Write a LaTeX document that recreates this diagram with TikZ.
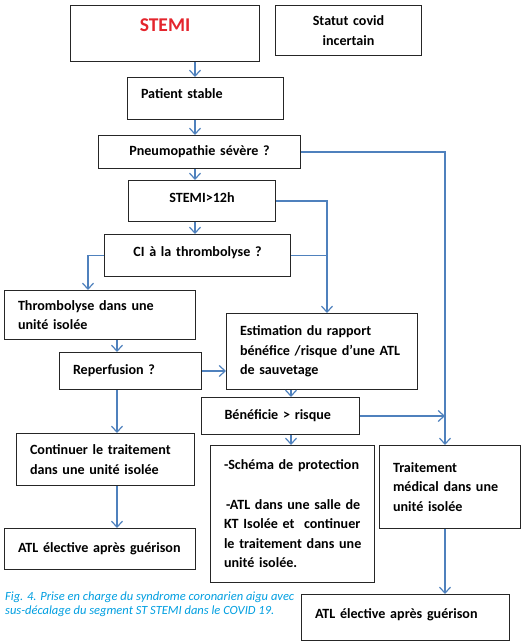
\documentclass[tikz,border=0pt]{standalone}
\usepackage{fontspec}
\setmainfont{Carlito}
\usetikzlibrary{arrows.meta}
\definecolor{flowblue}{RGB}{79,129,189}
\definecolor{stemired}{RGB}{228,37,45}
\definecolor{capcyan}{RGB}{0,158,224}
\newcommand{\keepline}[1]{\mbox{#1}}
\tikzset{
     arrow/.style={-{Straight Barb[length=6bp,width=11bp]},draw=flowblue,line width=1.2bp},
     link/.style={draw=flowblue,line width=1.2bp},
     box/.style={draw=black!85,line width=1bp,anchor=north west,inner xsep=13.5bp,inner ysep=0bp,font=\bfseries\fontsize{14.1bp}{19.6bp}\selectfont}
     }

\begin{document}
\begin{tikzpicture}[x=1bp,y=-1bp]
            \useasboundingbox (0,0) rectangle (522,644);
            % Place nodes
            \node[box,align=center,text width=162bp,minimum height=56bp,text depth=16bp] (stemi) at (70,5) {\textcolor{stemired}{\fontsize{19.5bp}{22bp}\selectfont STEMI}};
            \node[box,align=center,text width=119bp,minimum height=50bp] (covid) at (275,5) {Statut covid\\incertain};
            \node[box,align=left,text width=129bp,minimum height=42bp,text depth=10bp] (stable) at (127,77) {Patient stable};
            \node[box,align=center,text width=175bp,minimum height=33bp] (pneumo) at (98,135) {Pneumopathie sévère ?};
            \node[box,align=center,text width=120bp,minimum height=41bp,text depth=7bp] (late) at (128,180) {STEMI>12h};
            \node[box,align=center,text width=159bp,minimum height=42bp,text depth=8bp] (ci) at (104,234) {CI à la thrombolyse ?};
            \node[box,align=left,text width=164bp,minimum height=49bp] (thrombo) at (4,290) {\keepline{Thrombolyse dans une}\\unité isolée};
            \node[box,align=left,text width=115bp,minimum height=37bp] (reperf) at (59,352) {Reperfusion ?};
            \node[box,align=left,text width=164bp,minimum height=76bp] (estim) at (226,313) {\keepline{Estimation du rapport}\\\keepline{bénéfice /risque d’une ATL}\\de sauvetage};
            \node[box,align=left,inner xsep=23bp,text width=112bp,minimum height=37bp] (benef) at (201,397) {\keepline{Bénéficie >\ risque}};
            \node[box,align=left,text width=151bp,minimum height=52bp] (cont) at (16,433) {\keepline{Continuer le traitement}\\\keepline{dans une unité isolée}};
            \node[box,align=left,text width=137bp,minimum height=137bp] (schema) at (210,445) {\keepline{-Schéma de protection}\\[19.6bp]\keepline{\hspace*{2bp}-ATL dans une salle de}\\\keepline{KT Isolée et\ \ continuer}\\\keepline{le traitement dans une}\\unité isolée.};
            \node[box,align=left,text width=114bp,minimum height=83bp] (trait) at (379,445) {Traitement\\\keepline{médical dans une}\\unité isolée};
            \node[box,align=left,text width=164bp,minimum height=41bp] (atlleft) at (4,528) {\keepline{ATL élective après guérison}};
            \node[box,align=left,text width=181bp,minimum height=46bp,text depth=8bp] (atlright) at (301,594) {\keepline{ATL élective après guérison}};
            \node[anchor=north west,align=left,inner sep=0bp,text=capcyan,font=\itshape\fontsize{12.5bp}{13.8bp}\selectfont] (caption) at (5,592) {Fig. 4. Prise en charge du syndrome coronarien aigu avec\\sus-décalage du segment ST STEMI dans le COVID 19.};
            % Trunk positions
            \coordinate (axis) at (195,0);
            \coordinate (ltrunk) at (88,0);
            \coordinate (lax) at (117,0);
            \coordinate (mtrunk) at (327,0);
            \coordinate (sax) at (291,0);
            \coordinate (rtrunk) at (445,0);
            % Draw edges
            \draw[arrow] (stemi.south -| axis) -- (stable.north -| axis);
            \draw[arrow] (stable.south -| axis) -- (pneumo.north -| axis);
            \draw[arrow] (pneumo.south -| axis) -- (late.north -| axis);
            \draw[arrow] (late.south -| axis) -- (ci.north -| axis);
            \draw[arrow] (pneumo.east) -- (pneumo.east -| rtrunk) -- (trait.north -| rtrunk);
            \draw[arrow] (late.east) -- (late.east -| mtrunk) -- (estim.north -| mtrunk);
            \draw[link] (ci.east) -- (ci.east -| mtrunk);
            \draw[arrow] (ci.west) -- (ci.west -| ltrunk) -- (thrombo.north -| ltrunk);
            \draw[arrow] (thrombo.south -| lax) -- (reperf.north -| lax);
            \draw[arrow] (reperf.east) -- (estim.west |- reperf.east);
            \draw[arrow] (reperf.south -| lax) -- (cont.north -| lax);
            \draw[arrow] (cont.south -| lax) -- (atlleft.north -| lax);
            \draw[arrow] (estim.south -| sax) -- (benef.north -| sax);
            \draw[arrow] (benef.south -| sax) -- (schema.north -| sax);
            \draw[arrow] (benef.east) -- (benef.east -| rtrunk);
            \draw[arrow] (trait.south -| rtrunk) -- (atlright.north -| rtrunk);
\end{tikzpicture}
\end{document}
